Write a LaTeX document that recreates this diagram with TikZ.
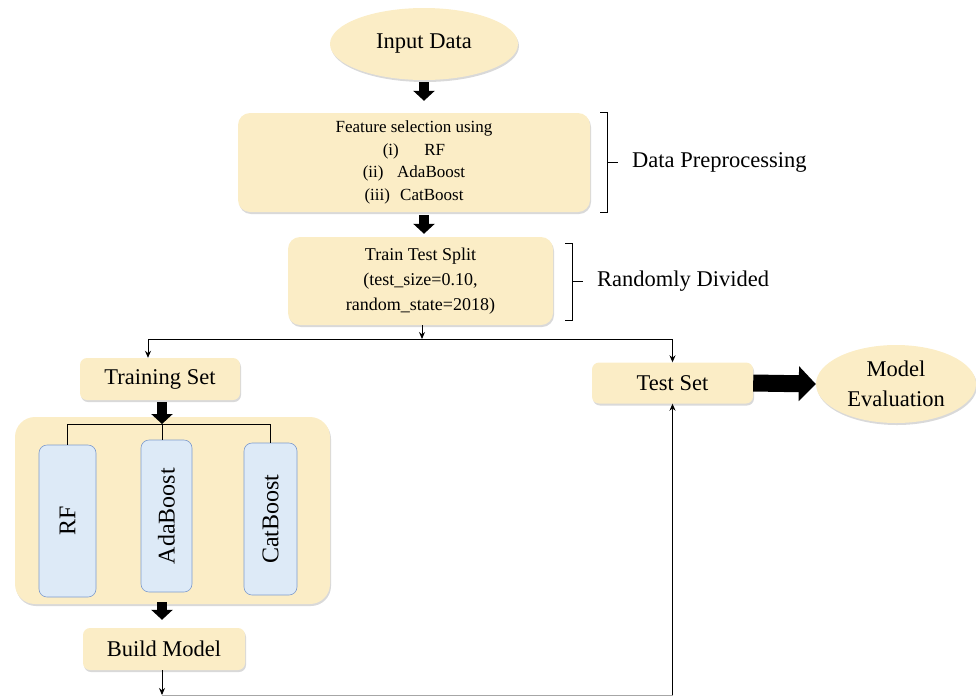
\documentclass[tikz,border=0pt]{standalone}
\usepackage{fontspec}
\setmainfont{Liberation Serif}
\usetikzlibrary{shapes.geometric,arrows.meta,shadows}
\definecolor{cream}{RGB}{251,237,198}
\definecolor{bluefill}{RGB}{221,234,247}
\definecolor{blueline}{RGB}{125,155,205}
\begin{document}
\begin{tikzpicture}[x=1pt,y=-1pt,
  shade/.style={drop shadow={opacity=0.3,shadow xshift=1pt,shadow yshift=-2pt}},
  box/.style={rectangle, rounded corners=7pt, fill=cream, shade, inner sep=0pt, align=center},
  oval/.style={ellipse, fill=cream, shade, inner sep=0pt, align=center},
  bluebox/.style={rectangle, rounded corners=8pt, fill=bluefill, draw=blueline, line width=0.6pt, inner sep=0pt, font=\fontsize{24}{28}\selectfont},
  big/.style={font=\fontsize{22.5}{26}\selectfont},
  blockarrow/.style={line width=10pt, -{Triangle[length=10pt,width=21pt]}},
  fatarrow/.style={line width=17pt, -{Triangle[length=17pt,width=34pt]}},
  thinarrow/.style={line width=0.9pt, -{Stealth[length=7pt,width=6pt]}},
  bracket/.style={line width=0.9pt},
  treeline/.style={line width=0.9pt}]
\useasboundingbox (0,0) rectangle (976,697);

% nodes
\node[oval,big,minimum width=188pt,minimum height=72pt] (input) at (424,44) {Input Data};
\node[box,rounded corners=12pt,minimum width=352pt,minimum height=99pt,font=\fontsize{17}{22.5}\selectfont] (feat) at (414,162.5)
  {Feature selection using\\(i)\hspace{1.5em}RF\\(ii)\hspace{0.8em}AdaBoost\\(iii)\hspace{0.6em}CatBoost};
\node[box,rounded corners=12pt,minimum width=265pt,minimum height=88pt,font=\fontsize{18}{25}\selectfont] (tts) at (420.5,281)
  {Train Test Split\\(test\_size=0.10,\\random\_state=2018)};
\node[big,anchor=west,inner sep=0pt] (dp) at (632,162) {Data Preprocessing};
\node[big,anchor=west,inner sep=0pt] (rd) at (597,281) {Randomly Divided};

\node[box,big,minimum width=160pt,minimum height=42pt] (train) at (160,379) {Training Set};
\node[box,big,minimum width=161pt,minimum height=41pt] (test) at (672.5,383) {Test Set};
\node[oval,minimum width=160pt,minimum height=78pt,font=\fontsize{22.5}{30}\selectfont] (eval) at (896,384) {Model\\Evaluation};

\node[box,rounded corners=20pt,minimum width=315pt,minimum height=187pt] (cont) at (172.5,510.5) {};
\node[bluebox,minimum width=57pt,minimum height=152pt] (rf) at (67.5,521) {\rotatebox{90}{RF}};
\node[bluebox,minimum width=51pt,minimum height=152pt] (ada) at (166.5,516) {\rotatebox{90}{AdaBoost}};
\node[bluebox,minimum width=53pt,minimum height=152pt] (cat) at (270.5,519) {\rotatebox{90}{CatBoost}};
\node[box,big,minimum width=162pt,minimum height=42pt] (build) at (164,649) {Build Model};

% coordinates
\coordinate (jt) at (162,424);
\coordinate (jm) at (422,339);
\coordinate (jl) at (148,339);
\coordinate (jr) at (672.5,339);
\coordinate (bl) at (162,695);
\coordinate (br) at (672.5,695);

% brackets
\draw[bracket] (600,112) -- (607,112) -- (607,212) -- (600,212) (607,162) -- (618,162);
\draw[bracket] (565,243) -- (572,243) -- (572,320) -- (565,320) (572,281) -- (583,281);

% block arrows
\draw[blockarrow, shorten <=2pt, shorten >=12pt] (input.south) -- (input.south |- feat.north);
\draw[blockarrow, shorten <=3pt, shorten >=3pt] (input.south |- feat.south) -- (input.south |- tts.north);
\draw[blockarrow, shorten <=2pt] (train.south -| jt) -- (jt);
\draw[blockarrow, shorten <=-2pt, shorten >=8pt] (cont.south -| jt) -- (build.north -| jt);
\draw[fatarrow] (test.east) -- (eval.west);

% tree
\draw[treeline] (rf.north) -- (rf.north |- jt) -- (cat.north |- jt) -- (cat.north);
\draw[treeline] (jt) -- (jt |- ada.north);

% thin connectors
\draw[thinarrow] (tts.south -| jm) -- (jm);
\draw[line width=0.9pt] (jl) -- (jr);
\draw[thinarrow] (jl) -- (jl |- train.north);
\draw[thinarrow] (jr) -- (test.north);
\draw[thinarrow] (build.south -| bl) -- (bl);
\draw[line width=0.5pt, black!35] (bl) -- (br);
\draw[thinarrow] (br) -- (test.south);
\end{tikzpicture}
\end{document}
